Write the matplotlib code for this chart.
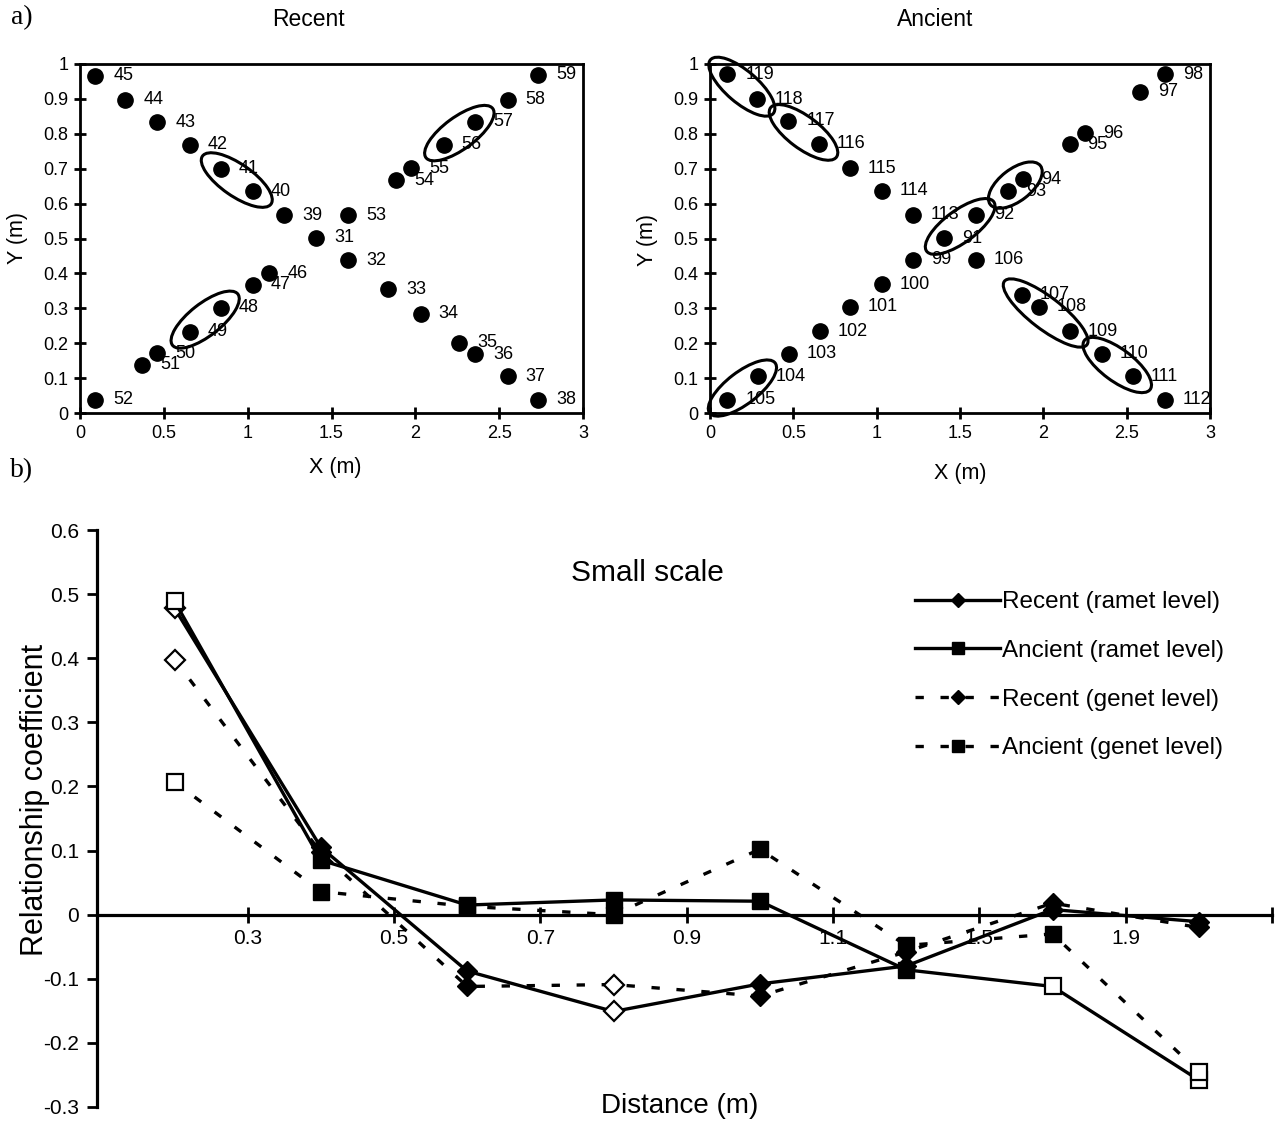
import numpy as np
import matplotlib
matplotlib.use("Agg")
import matplotlib.pyplot as plt
from matplotlib.patches import Ellipse
from matplotlib.transforms import ScaledTranslation
from matplotlib.lines import Line2D

plt.rcParams['font.family'] = ['Liberation Sans', 'DejaVu Sans']

# ---------------- data: panel a) Recent ----------------
recent_labels = ['45', '44', '43', '42', '41', '40', '39', '31', '32', '33', '34', '35', '36', '37', '38',
                 '52', '51', '50', '49', '48', '47', '46', '53', '54', '55', '56', '57', '58', '59']
recent_x = [0.091, 0.27, 0.461, 0.655, 0.838, 1.032, 1.217, 1.409, 1.60, 1.838, 2.032, 2.26, 2.356, 2.55, 2.733,
            0.091, 0.37, 0.461, 0.655, 0.838, 1.032, 1.13, 1.60, 1.884, 1.975, 2.169, 2.356, 2.55, 2.733]
recent_y = [0.967, 0.898, 0.833, 0.769, 0.700, 0.635, 0.567, 0.502, 0.437, 0.355, 0.284, 0.202, 0.169, 0.105, 0.038,
            0.038, 0.138, 0.171, 0.233, 0.302, 0.367, 0.400, 0.567, 0.667, 0.702, 0.769, 0.835, 0.898, 0.969]
recent_groups = [['41', '40'], ['49', '48'], ['56', '57']]

# ---------------- data: panel a) Ancient ----------------
ancient_labels = ['119', '118', '117', '116', '115', '114', '113', '91', '92', '99', '106', '100', '101', '102',
                  '103', '104', '105', '93', '94', '95', '96', '97', '98', '107', '108', '109', '110', '111', '112']
ancient_x = [0.103, 0.279, 0.469, 0.653, 0.84, 1.03, 1.218, 1.406, 1.596, 1.218, 1.596, 1.03, 0.84, 0.657,
             0.474, 0.286, 0.103, 1.786, 1.878, 2.157, 2.249, 2.581, 2.73, 1.871, 1.974, 2.157, 2.352, 2.535, 2.73]
ancient_y = [0.971, 0.899, 0.837, 0.771, 0.701, 0.637, 0.568, 0.501, 0.568, 0.439, 0.439, 0.369, 0.305, 0.234,
             0.170, 0.105, 0.038, 0.636, 0.670, 0.770, 0.802, 0.921, 0.971, 0.339, 0.305, 0.234, 0.170, 0.105, 0.038]
ancient_groups = [['119', '118'], ['117', '116'], ['91', '92'], ['93', '94'],
                  ['107', '108', '109'], ['110', '111'], ['105', '104']]

# ---------------- data: panel b) ----------------
distance_ticklabels = ['0.3', '0.5', '0.7', '0.9', '1.1', '1.5', '1.9', '']
recent_ramet = [0.478, 0.105, -0.088, -0.151, -0.108, -0.080, 0.008, -0.011]
ancient_ramet = [0.489, 0.085, 0.015, 0.023, 0.021, -0.086, -0.112, -0.258]
recent_genet = [0.398, 0.097, -0.112, -0.109, -0.127, -0.058, 0.018, -0.020]
ancient_genet = [0.207, 0.036, 0.013, 0.000, 0.102, -0.048, -0.030, -0.245]
recent_ramet_open = [0, 3]
ancient_ramet_open = [0, 6, 7]
recent_genet_open = [0, 3]
ancient_genet_open = [0, 7]
series_names = ['Recent (ramet level)', 'Ancient (ramet level)', 'Recent (genet level)', 'Ancient (genet level)']

W, H, DPI = 1275, 1122, 100
fig = plt.figure(figsize=(W / DPI, H / DPI), dpi=DPI)


def px_axes(l, t, r, b):
    return fig.add_axes([l / W, 1 - b / H, (r - l) / W, (b - t) / H])


def scatter_panel(ax, xs, ys, labels, groups):
    ax.set_xlim(0, 3)
    ax.set_ylim(0, 1)
    ax.plot(xs, ys, 'o', color='black', markersize=11, linestyle='none', zorder=3)
    for x, y, lab in zip(xs, ys, labels):
        ax.annotate(lab, (x, y), xytext=(13, 0), textcoords='offset points',
                    ha='left', va='center', fontsize=13, zorder=4)
    for s in ax.spines.values():
        s.set_linewidth(2.0)
    ax.set_xticks(np.arange(0, 3.01, 0.5))
    ax.set_xticklabels(['0', '0.5', '1', '1.5', '2', '2.5', '3'])
    ax.set_yticks(np.arange(0, 1.01, 0.1))
    ax.set_yticklabels(['0'] + ['%.1f' % v for v in np.arange(0.1, 0.95, 0.1)] + ['1'])
    ax.tick_params(direction='inout', length=9, width=2, labelsize=13, pad=4)
    lookup = {lab: (x, y) for x, y, lab in zip(xs, ys, labels)}
    for g in groups:
        pts = [lookup[k] for k in g]
        p0, p1 = pts[0], pts[-1]
        cx, cy = (p0[0] + p1[0]) / 2, (p0[1] + p1[1]) / 2
        d0 = ax.transData.transform(p0)
        d1 = ax.transData.transform(p1)
        dx, dy = d1 - d0
        ang = np.degrees(np.arctan2(dy, dx))
        length = np.hypot(dx, dy) + 44
        trans = fig.dpi_scale_trans + ScaledTranslation(cx, cy, ax.transData)
        e = Ellipse((0, 0), width=length / DPI, height=32 / DPI, angle=ang, transform=trans,
                    fill=False, lw=2.2, edgecolor='black', clip_on=False, zorder=5)
        ax.add_patch(e)


ax1 = px_axes(80, 64, 583, 413)
ax2 = px_axes(710, 64, 1210, 413)
scatter_panel(ax1, recent_x, recent_y, recent_labels, recent_groups)
scatter_panel(ax2, ancient_x, ancient_y, ancient_labels, ancient_groups)

fig.text(308 / W, 1 - 20 / H, 'Recent', ha='center', va='center', fontsize=16.5)
fig.text(935 / W, 1 - 20 / H, 'Ancient', ha='center', va='center', fontsize=16.5)
fig.text(335 / W, 1 - 467 / H, 'X (m)', ha='center', va='center', fontsize=15.5)
fig.text(960 / W, 1 - 473 / H, 'X (m)', ha='center', va='center', fontsize=15.5)
fig.text(18 / W, 1 - 238 / H, 'Y (m)', ha='center', va='center', fontsize=15.5, rotation=90)
fig.text(647 / W, 1 - 240 / H, 'Y (m)', ha='center', va='center', fontsize=15.5, rotation=90)
fig.text(22 / W, 1 - 18 / H, 'a)', ha='center', va='center', fontsize=20, family='Liberation Serif')
fig.text(22 / W, 1 - 471 / H, 'b)', ha='center', va='center', fontsize=20, family='Liberation Serif')

# ---------------- panel b ----------------
ax3 = px_axes(97, 530, 1272, 1107)
ax3.set_xlim(-0.53, 7.5)
ax3.set_ylim(-0.3, 0.6)
xi = np.arange(len(recent_ramet))
dash = (0, (2.5, 5))
styles = [
    (recent_ramet, recent_ramet_open, '-', 'D', 10),
    (ancient_ramet, ancient_ramet_open, '-', 's', 12),
    (recent_genet, recent_genet_open, dash, 'D', 10),
    (ancient_genet, ancient_genet_open, dash, 's', 12),
]
handles = []
for k, (vals, opens, ls, mk, ms) in enumerate(styles):
    vals = np.array(vals)
    ax3.plot(xi, vals, color='black', lw=2.4, linestyle=ls, zorder=3 + k)
    filled = [i for i in xi if i not in opens]
    ax3.plot(xi[filled], vals[filled], linestyle='none', marker=mk, markersize=ms,
             markerfacecolor='black', markeredgecolor='black', zorder=3.5 + k)
    ax3.plot(xi[opens], vals[opens], linestyle='none', marker=mk, markersize=ms,
             markerfacecolor='white', markeredgecolor='black', markeredgewidth=1.6, zorder=3.5 + k)
    handles.append(Line2D([], [], color='black', lw=2.4, linestyle=ls, marker=mk,
                          markersize=ms * 0.72, markerfacecolor='black'))

ax3.spines['top'].set_visible(False)
ax3.spines['right'].set_visible(False)
ax3.spines['bottom'].set_position(('data', 0))
ax3.spines['bottom'].set_linewidth(2.3)
ax3.spines['left'].set_linewidth(2.3)
ax3.set_xticks(np.arange(0.5, 7.6, 1.0))
ax3.set_xticklabels(distance_ticklabels)
ax3.set_yticks(np.round(np.arange(-0.3, 0.61, 0.1), 1))
ax3.set_yticklabels(['%g' % v for v in np.round(np.arange(-0.3, 0.61, 0.1), 1)])
ax3.tick_params(axis='x', direction='inout', length=12, width=2, labelsize=15, pad=4)
ax3.tick_params(axis='y', direction='out', length=7, width=2, labelsize=15, pad=6)

ax3.text(3.23, 0.533, 'Small scale', ha='center', va='center', fontsize=21.5)
fig.text(680 / W, 1 - 1106 / H, 'Distance (m)', ha='center', va='center', fontsize=20)
fig.text(35 / W, 1 - 800 / H, 'Relationship coefficient', ha='center', va='center',
         fontsize=22, rotation=90)

leg = ax3.legend(handles, series_names, loc='upper left', bbox_to_anchor=(915 / W, 1 - 591 / H),
                 bbox_transform=fig.transFigure, frameon=False, fontsize=17.5, borderpad=0,
                 borderaxespad=0, handlelength=3.5, handletextpad=0.1, labelspacing=1.1)

fig.savefig('out.png', dpi=DPI)
